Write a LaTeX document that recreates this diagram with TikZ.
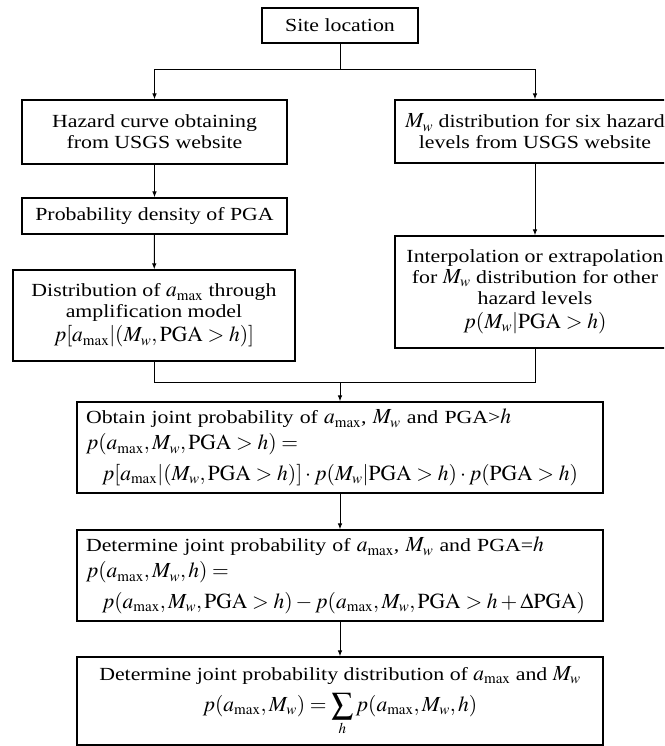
\documentclass[tikz,border=0pt]{standalone}
\usepackage{mathptmx}
\usepackage[no-math]{fontspec}
\setmainfont{Liberation Serif}[FakeStretch=1.18]
\DeclareMathSizes{18.5}{21.5}{15}{11.5}
\usepackage{tikz}
\usetikzlibrary{arrows.meta}
\usetikzlibrary{positioning}
\tikzstyle{step box}=[draw,line width=1.1pt,inner sep=0pt,align=center,
font=\fontsize{18.5}{21}\selectfont]
\tikzstyle{long box}=[step box,align=left,text width=508,inner xsep=9pt,
minimum height=91]
\tikzstyle{flow} = [draw,line width=1pt,black,>={Latex[length=6pt,width=4.5pt]}]

\begin{document}
\begin{tikzpicture}[x=1pt,y=-1pt]
	\useasboundingbox (0,0) rectangle (664,746);
	\clip (0,0) rectangle (664,746);

	\node[step box,minimum width=156,minimum height=35] (sl) at (340,25.5) {Site location};
	\node[step box,minimum width=265,minimum height=64] (hc) at (154.5,132)
	{Hazard curve obtaining\\from USGS website};
	\node[step box,minimum width=280,minimum height=63] (mw) at (535,131.5)
	{$M_w$ distribution for six hazard\\levels from USGS website};
	\node[step box,minimum width=265,minimum height=36] (pd) at (154.5,216)
	{Probability density of PGA};
	\node[step box,minimum width=282,minimum height=91] (da) at (154,315.5)
	{Distribution of $a_{\max}$ through\\amplification model\\[3pt]
	$p[a_{\max}|(M_w,\mathrm{PGA}>h)]$};
	\node[step box,minimum width=280,minimum height=112] (ip) at (535,292)
	{Interpolation or extrapolation\\for $M_w$ distribution for other\\hazard levels\\[3pt]
	$p(M_w|\mathrm{PGA}>h)$};
	\node[long box] (oj) at (340,447.5)
	{Obtain joint probability of $a_{\max}$, $M_w$ and PGA>$h$\\[5pt]
	$p(a_{\max},M_w,\mathrm{PGA}>h)=$\\[8pt]
	\hspace*{16pt}$p[a_{\max}|(M_w,\mathrm{PGA}>h)]\cdot p(M_w|\mathrm{PGA}>h)\cdot p(\mathrm{PGA}>h)$};
	\node[long box] (dj) at (340,575.5)
	{Determine joint probability of $a_{\max}$, $M_w$ and PGA=$h$\\[5pt]
	$p(a_{\max},M_w,h)=$\\[8pt]
	\hspace*{16pt}$p(a_{\max},M_w,\mathrm{PGA}>h)-p(a_{\max},M_w,\mathrm{PGA}>h+\Delta\mathrm{PGA})$};
	\node[step box,minimum width=526,minimum height=88] (jd) at (340,701)
	{Determine joint probability distribution of $a_{\max}$ and $M_w$\\[8pt]
	$\displaystyle p(a_{\max},M_w)=\sum_h p(a_{\max},M_w,h)$};

	\coordinate (br) at (340,70);
	\coordinate (jn) at (340,382);

	\draw[flow] (sl) -- (br);
	\draw[flow,->] (br) -| (hc);
	\draw[flow,->] (br) -| (mw);
	\draw[flow,->] (hc) -- (pd);
	\draw[flow,->] (pd) -- (da);
	\draw[flow,->] (mw) -- (ip);
	\draw[flow] (da) |- (jn);
	\draw[flow] (ip) |- (jn);
	\draw[flow,->] (jn) -- (oj);
	\draw[flow,->] (oj) -- (dj);
	\draw[flow,->] (dj) -- (jd);

\end{tikzpicture}
\end{document}
